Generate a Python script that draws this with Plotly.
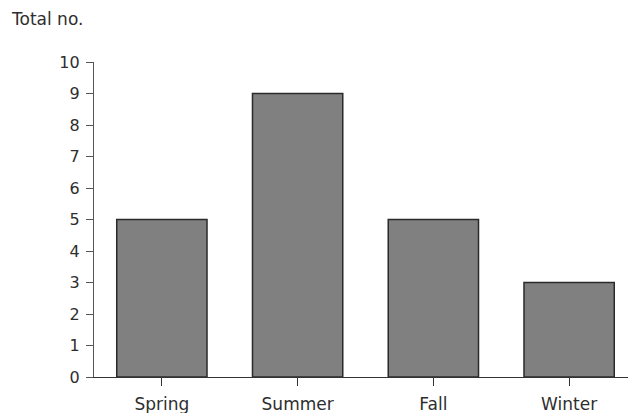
import plotly.graph_objects as go

seasons = ["Spring", "Summer", "Fall", "Winter"]
totals = [5, 9, 5, 3]
y_ticks = list(range(0, 11))

FAM = "DejaVu Sans, Verdana, sans-serif"
TXT = "#2e2e2e"

# page offset (body margin) of ~8px is compensated in margins
L, R, T, B = 86, 7, 54, 44
W, H = 636, 413
pw, ph = W - L - R, H - T - B

fig = go.Figure()
fig.add_trace(go.Bar(
    x=seasons, y=totals,
    marker=dict(color="#808080", line=dict(color="#2a2a2a", width=1.5)),
    width=0.665,
))

fig.update_layout(
    width=W, height=H,
    margin=dict(l=L, r=R, t=T, b=B),
    paper_bgcolor="white", plot_bgcolor="white",
    showlegend=False,
    font=dict(family=FAM, size=16, color=TXT),
    xaxis=dict(
        showline=True, linecolor="#333333", linewidth=1.2,
        ticks="outside", ticklen=8, tickcolor="#333333", tickwidth=1,
        ticklabelstandoff=3,
        showgrid=False, zeroline=False,
        tickfont=dict(size=17, family=FAM, color=TXT),
    ),
    yaxis=dict(
        range=[0, 10], tickvals=y_ticks,
        showline=True, linecolor="#555555", linewidth=1.2,
        ticks="outside", ticklen=7, tickcolor="#555555", tickwidth=1,
        ticklabelstandoff=3,
        showgrid=False, zeroline=False,
        tickfont=dict(size=16, family=FAM, color=TXT),
    ),
    annotations=[dict(
        text="Total no.", xref="paper", yref="paper",
        x=(1 - L) / pw, y=1 + (T - 11) / ph, xanchor="left", yanchor="middle",
        showarrow=False, font=dict(size=17, family=FAM, color=TXT),
    )],
)

fig.write_html("out.html")
